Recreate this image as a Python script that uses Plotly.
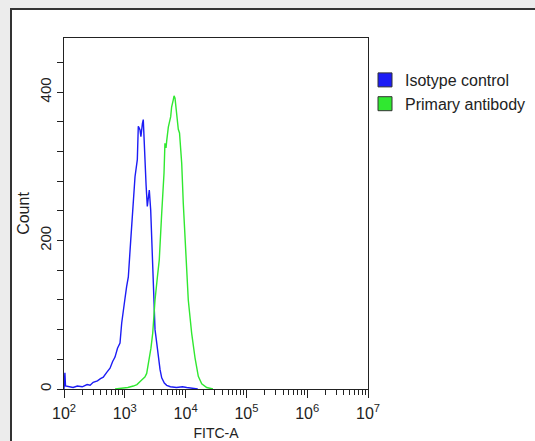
import plotly.graph_objects as go

# Isotype control (blue): log10(FITC-A) positions and counts
iso_log = [2.000, 2.005, 2.015, 2.025, 2.08, 2.15, 2.22, 2.30, 2.38, 2.43, 2.48, 2.55, 2.60, 2.646,
           2.70, 2.757, 2.80, 2.839, 2.88, 2.921, 2.949, 2.965, 3.003, 3.03, 3.058, 3.097, 3.130,
           3.168, 3.206, 3.222, 3.235, 3.250, 3.265, 3.278, 3.29, 3.304, 3.318, 3.332, 3.35,
           3.370, 3.39, 3.403, 3.426, 3.447, 3.480, 3.497, 3.513, 3.551, 3.58, 3.607, 3.65,
           3.689, 3.75, 3.85, 3.95, 4.018, 4.10, 4.2]
iso_count = [0, 20, 22, 4, 3, 2, 4, 3, 6, 5, 9, 11, 14, 16,
             22, 28, 37, 43, 55, 62, 89, 97, 122, 138, 151, 200, 246,
             286, 309, 354, 352, 349, 340, 354, 358, 363, 330, 304, 275,
             246, 262, 268, 241, 192, 129, 80, 70, 40, 26, 15, 8,
             5, 3, 2, 3, 2, 1, 0]

# Primary antibody (green)
pri_log = [2.84, 2.95, 3.05, 3.14, 3.20, 3.278, 3.33, 3.36, 3.40, 3.43, 3.459, 3.497, 3.535,
           3.567, 3.607, 3.645, 3.66, 3.678, 3.69, 3.716, 3.755, 3.77, 3.798, 3.81, 3.826,
           3.854, 3.880, 3.90, 3.936, 3.962, 4.007, 4.044, 4.10, 4.155, 4.209, 4.265, 4.347, 4.45]
pri_count = [0, 1, 2, 4, 6, 12, 16, 21, 39, 55, 75, 120, 150,
             174, 237, 291, 331, 325, 335, 353, 367, 380, 390, 395, 392,
             371, 350, 345, 304, 250, 170, 120, 75, 42, 17, 7, 2, 0]

series_names = ["Isotype control", "Primary antibody"]
series_colors = ["#1c1cf5", "#30e830"]

iso_x = [10 ** v for v in iso_log]
pri_x = [10 ** v for v in pri_log]

decades = [2, 3, 4, 5, 6, 7]
tick_vals = [10 ** d for d in decades]
tick_text = ["10<sup>%d</sup>" % d for d in decades]
minor_vals = [m * 10 ** d for d in decades[:-1] for m in range(2, 10)]

y_tickvals = list(range(0, 441, 40))
y_ticktext = [str(v) if v in (0, 200, 400) else "" for v in y_tickvals]

FONT = "Liberation Sans, Arial, sans-serif"

fig = go.Figure()
fig.add_trace(go.Scatter(x=iso_x, y=iso_count, mode="lines", line=dict(color=series_colors[0], width=1.4),
                         showlegend=False))
fig.add_trace(go.Scatter(x=pri_x, y=pri_count, mode="lines", line=dict(color=series_colors[1], width=1.4),
                         showlegend=False))
for name, col in zip(series_names, series_colors):
    fig.add_trace(go.Scatter(x=[None], y=[None], mode="markers", name=name,
                             marker=dict(symbol="square", size=14, color=col,
                                         line=dict(color="#333333", width=1))))

W, H = 535, 441
L, R, T, B = 64, 368, 38, 389
pw, ph = R - L, B - T

def px(xp):
    return (xp - L) / pw

def py(yp):
    return (B - yp) / ph

fig.add_shape(type="rect", xref="paper", yref="paper", x0=px(11), x1=px(600), y0=py(500), y1=py(9),
              fillcolor="white", line=dict(color="#333333", width=2), layer="below")

fig.update_layout(
    width=W, height=H,
    margin=dict(l=L, r=W - R, t=T, b=H - B, pad=0, autoexpand=False),
    paper_bgcolor="#ececec", plot_bgcolor="white",
    font=dict(family=FONT, color="#222222", size=13),
    legend=dict(x=px(365), y=py(63), xanchor="left", yanchor="top",
                bgcolor="rgba(0,0,0,0)", font=dict(size=16, color="#222222"),
                itemwidth=30, tracegroupgap=0),
    xaxis=dict(type="log", range=[2, 7], tickvals=tick_vals, ticktext=tick_text,
               ticks="outside", ticklen=8, tickcolor="#222222", showgrid=False, zeroline=False,
               showline=True, mirror=True, linecolor="#222222", linewidth=1,
               tickfont=dict(size=16), ticklabelstandoff=2,
               minor=dict(tickvals=minor_vals, ticks="outside", ticklen=5, tickcolor="#222222", showgrid=False),
               title=dict(text="FITC-A", font=dict(size=14), standoff=14)),
    yaxis=dict(range=[0, 473], tickvals=y_tickvals, ticktext=y_ticktext, tickangle=-90,
               ticks="outside", ticklen=6, tickcolor="#222222", showgrid=False, zeroline=False,
               showline=True, mirror=True, linecolor="#222222", linewidth=1,
               tickfont=dict(size=15),
               title=dict(text="Count", font=dict(size=16), standoff=3)),
)

fig.write_html("out.html", config={"displayModeBar": False},
               post_script="document.body.style.margin='0';document.body.style.overflow='hidden';")
